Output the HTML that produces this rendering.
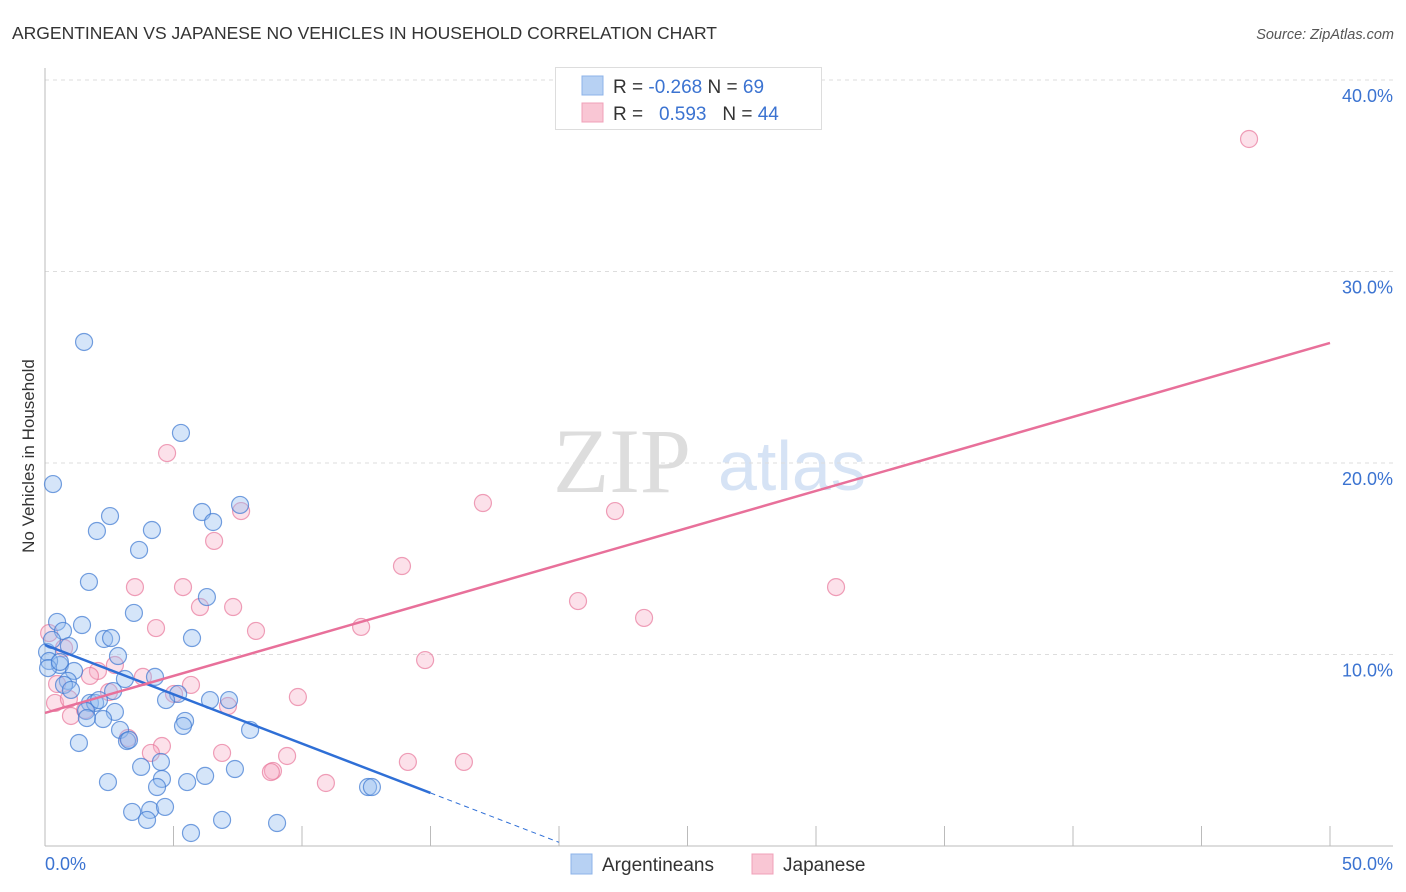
<!DOCTYPE html>
<html><head><meta charset="utf-8"><style>
body{margin:0;background:#fff;font-family:"Liberation Sans",sans-serif;}
svg{display:block}
</style></head><body>
<svg id="c" width="1406" height="892" viewBox="0 0 1406 892">
<text x="12" y="39" font-size="17.5" fill="#333">ARGENTINEAN VS JAPANESE NO VEHICLES IN HOUSEHOLD CORRELATION CHART</text>
<text x="1394" y="39" font-size="14.5" fill="#555" font-style="italic" text-anchor="end">Source: ZipAtlas.com</text>
<text x="34" y="456" font-size="17" fill="#333" text-anchor="middle" transform="rotate(-90 34 456)">No Vehicles in Household</text>
<g>
<text x="553" y="492" font-family="Liberation Serif,serif" font-size="92" fill="#ddd">ZIP</text>
<text x="718" y="490" font-size="70" fill="#d6e3f5">atlas</text>
</g>
<g id="grid"></g><g id="axes"></g><g id="pts"></g><g id="lines"></g>
<g>
<rect x="555.5" y="67.5" width="266" height="62" fill="#fff" stroke="#ddd"/>
<rect x="582" y="76" width="21" height="19" fill="#b7d1f3" stroke="#8cb3e8"/>
<rect x="582" y="103" width="21" height="19" fill="#f9c6d4" stroke="#f0a0b8"/>
<text x="613" y="93" font-size="19" fill="#333">R = <tspan fill="#3b73d1">-0.268</tspan>   N = <tspan fill="#3b73d1">69</tspan></text>
<text x="613" y="120" font-size="19" fill="#333" xml:space="preserve">R =   <tspan fill="#3b73d1">0.593</tspan>   N = <tspan fill="#3b73d1">44</tspan></text>
</g>
<g>
<rect x="571" y="854" width="21" height="20" fill="#b7d1f3" stroke="#8cb3e8"/>
<text x="602" y="871" font-size="19" fill="#333">Argentineans</text>
<rect x="752" y="854" width="21" height="20" fill="#f9c6d4" stroke="#f0a0b8"/>
<text x="783" y="871" font-size="19" fill="#333">Japanese</text>
</g>
</svg>
<script>
const yTicks=[10,20,30,40];
const yTickLabels=["10.0%","20.0%","30.0%","40.0%"];
const xTicks=[0,5,10,15,20,25,30,35,40,45,50];
const blueX=[0.31,1.52,5.29,7.59,6.11,6.54,2.53,2.02,4.16,3.66,1.71,6.30,3.46,0.47,1.44,0.70,2.30,2.57,5.72,0.93,0.08,2.84,0.58,1.13,4.28,3.11,0.89,0.74,1.01,2.65,5.18,4.71,6.42,7.16,1.75,1.95,1.60,2.72,2.26,1.63,5.45,5.37,2.92,7.98,3.19,1.32,3.27,3.74,4.51,6.23,7.39,4.55,2.45,5.53,4.36,12.57,12.72,3.39,4.09,4.67,3.97,6.89,9.03,5.68,0.16,0.27,0.12,2.10,0.58];
const blueY=[18.90,26.32,21.57,17.81,17.44,16.92,17.23,16.45,16.50,15.46,13.79,13.00,12.17,11.70,11.54,11.23,10.81,10.86,10.86,10.44,10.13,9.92,9.45,9.14,8.83,8.72,8.62,8.41,8.15,8.09,7.94,7.62,7.62,7.62,7.47,7.47,7.05,7.00,6.63,6.68,6.53,6.27,6.06,6.06,5.48,5.38,5.54,4.13,4.39,3.66,4.02,3.50,3.34,3.34,3.08,3.08,3.08,1.78,1.88,2.04,1.36,1.36,1.20,0.68,9.66,10.76,9.29,7.62,9.61];
const pinkX=[46.85,4.75,17.04,22.18,7.63,6.58,13.89,3.50,5.37,30.78,7.32,6.03,20.74,4.32,8.21,12.30,23.31,0.16,0.74,14.79,3.81,2.72,2.06,1.75,5.68,0.47,2.49,5.02,9.84,7.12,0.39,1.01,1.56,0.93,4.55,4.12,6.89,9.42,8.87,8.79,14.12,16.30,10.93,3.23];
const pinkY=[36.92,20.52,17.91,17.49,17.49,15.93,14.62,13.52,13.52,13.52,12.48,12.48,12.79,11.38,11.23,11.44,11.91,11.12,10.34,9.71,8.83,9.45,9.14,8.88,8.41,8.46,8.04,7.94,7.78,7.31,7.47,6.79,7.10,7.68,5.22,4.86,4.86,4.70,3.92,3.86,4.39,4.39,3.29,5.64];
const blueTrend=[10.5,-0.268*0+2.77]; // y at x=0 and x=15
const blueTrendX=[0,15,20];
const pinkTrend=[6.95,26.27]; // y at x=0 and x=50
const X=v=>45+25.7*v, Y=v=>846-19.15*v;
const NS="http://www.w3.org/2000/svg";
function mk(tag,attrs,parent){const e=document.createElementNS(NS,tag);for(const k in attrs)e.setAttribute(k,attrs[k]);document.getElementById(parent).appendChild(e);return e;}
yTicks.forEach((t,i)=>{
 const l=mk('line',{x1:45,x2:1393,y1:Y(t),y2:Y(t),stroke:'#ddd','stroke-dasharray':'4,4'},'grid');
 
 
 const tx=mk('text',{x:1393,y:Y(t)+22,'font-size':18,fill:'#3b73d1','text-anchor':'end'},'grid');
 tx.textContent=yTickLabels[i];
 
 
});
const ax=mk('line',{x1:45,x2:1393,y1:846,y2:846,stroke:'#bbb'},'axes');


const ay=mk('line',{x1:45,x2:45,y1:68,y2:846,stroke:'#bbb'},'axes');


xTicks.forEach(t=>{
 const l=mk('line',{x1:X(t),x2:X(t),y1:826,y2:846,stroke:'#bbb'},'axes');
 
 
});
const x0=mk('text',{x:45,y:870,'font-size':18,fill:'#3b73d1'},'axes');x0.textContent='0.0%';


const x1=mk('text',{x:1393,y:870,'font-size':18,fill:'#3b73d1','text-anchor':'end'},'axes');x1.textContent='50.0%';


pinkX.forEach((v,i)=>{
 const c=mk('circle',{cx:X(v),cy:Y(pinkY[i]),r:8.5,fill:'rgba(245,170,195,0.35)',stroke:'rgba(232,120,155,0.7)','stroke-width':1.2},'pts');
 
 
});
blueX.forEach((v,i)=>{
 const c=mk('circle',{cx:X(v),cy:Y(blueY[i]),r:8.5,fill:'rgba(150,190,240,0.4)',stroke:'rgba(60,120,210,0.7)','stroke-width':1.2},'pts');
 
 
});
const slopeB=(blueTrend[1]-blueTrend[0])/(blueTrendX[1]-blueTrendX[0]);
const bl=mk('line',{x1:X(0),y1:Y(blueTrend[0]),x2:X(blueTrendX[1]),y2:Y(blueTrend[1]),stroke:'#2f6fd6','stroke-width':2.5},'lines');


const bd=mk('line',{x1:X(blueTrendX[1]),y1:Y(blueTrend[1]),x2:X(blueTrendX[2]),y2:Y(blueTrend[0]+slopeB*blueTrendX[2]),stroke:'#2f6fd6','stroke-width':1,'stroke-dasharray':'5,4'},'lines');


const pl=mk('line',{x1:X(0),y1:Y(pinkTrend[0]),x2:X(50),y2:Y(pinkTrend[1]),stroke:'#e8709a','stroke-width':2.5},'lines');


</script>
</body></html>
